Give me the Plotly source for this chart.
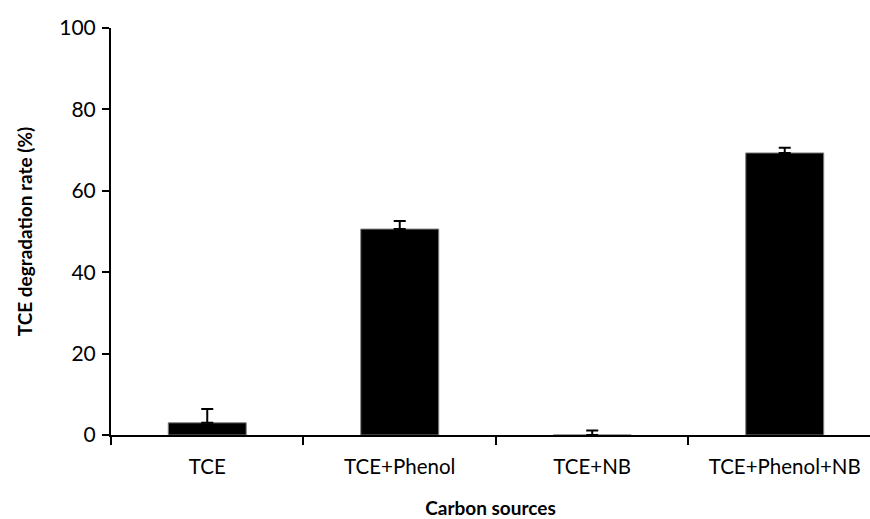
import plotly.graph_objects as go

categories = ["TCE", "TCE+Phenol", "TCE+NB", "TCE+Phenol+NB"]
rates = [3.0, 50.6, 0.0, 69.3]
errors_plus = [3.4, 2.0, 1.1, 1.3]
errors_minus = [0, 0, 0, 0]

font_family = "Lato, 'Open Sans', sans-serif"

fig = go.Figure(
    go.Bar(
        x=categories,
        y=rates,
        width=0.405,
        marker=dict(color="black", line=dict(color="#808080", width=1)),
        error_y=dict(
            type="data",
            symmetric=False,
            array=errors_plus,
            arrayminus=errors_minus,
            color="black",
            thickness=2,
            width=6,
        ),
    )
)

fig.update_layout(
    width=870,
    height=519,
    margin=dict(l=111, r=0, t=28, b=84),
    plot_bgcolor="white",
    paper_bgcolor="white",
    showlegend=False,
    font=dict(family=font_family, color="black", size=20),
)

fig.update_xaxes(
    range=[-0.5, 3.443],
    automargin=False,
    showline=True,
    linecolor="black",
    linewidth=2,
    ticks="outside",
    tickson="boundaries",
    ticklen=8,
    tickwidth=1.5,
    tickcolor="black",
    showgrid=False,
    tickfont=dict(size=20.5),
    ticklabelstandoff=12,
    title=dict(text="<b>Carbon sources</b>", font=dict(size=19), standoff=26),
)

fig.update_yaxes(
    range=[0, 100],
    dtick=20,
    automargin=False,
    showline=True,
    linecolor="black",
    linewidth=2,
    ticks="outside",
    ticklen=7,
    tickwidth=1.5,
    tickcolor="black",
    showgrid=False,
    zeroline=False,
    tickfont=dict(size=21),
    ticklabelstandoff=2,
    title=dict(text="<b>TCE degradation rate (%)</b>", font=dict(size=19), standoff=22),
)

fig.write_html("out.html")
